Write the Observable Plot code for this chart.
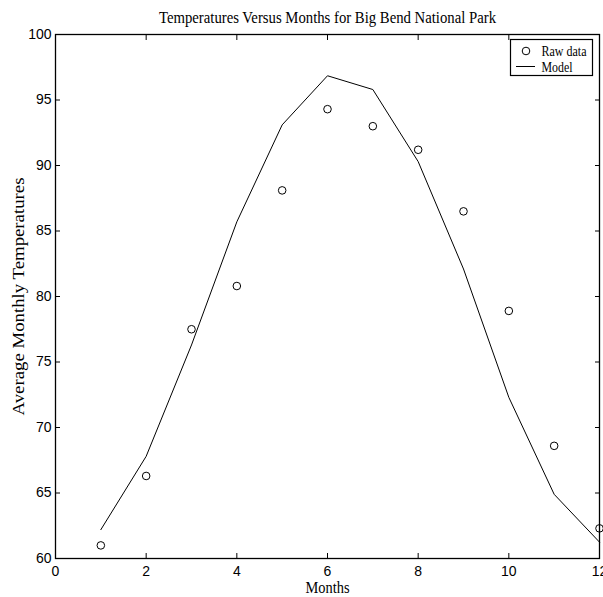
<!DOCTYPE html>
<html>
<head>
<meta charset="utf-8">
<script src="https://cdn.jsdelivr.net/npm/d3@7"></script>
<script src="https://cdn.jsdelivr.net/npm/@observablehq/plot@0.6"></script>
<style>
  html, body { margin: 0; padding: 0; background: #fff; }
  #wrap { position: relative; width: 603px; height: 597px; overflow: hidden; }
  #legend { position: absolute; left: 0; top: 0; pointer-events: none; }
</style>
</head>
<body>
<div id="wrap"></div>
<script>
const titleText = "Temperatures Versus Months for Big Bend National Park";
const xLabel = "Months";
const yLabel = "Average Monthly Temperatures";
const legendLabels = ["Raw data", "Model"];

const months = [1, 2, 3, 4, 5, 6, 7, 8, 9, 10, 11, 12];
const rawTemps = [61.0, 66.3, 77.5, 80.8, 88.1, 94.3, 93.0, 91.2, 86.5, 78.9, 68.6, 62.3];
const modelTemps = [62.2, 67.8, 76.3, 85.7, 93.1, 96.85, 95.8, 90.3, 82.1, 72.3, 64.9, 61.25];

const xTicks = [0, 2, 4, 6, 8, 10, 12];
const yTicks = [60, 65, 70, 75, 80, 85, 90, 95, 100];

const raw = months.map((m, i) => ({month: m, temp: rawTemps[i]}));
const model = months.map((m, i) => ({month: m, temp: modelTemps[i]}));

const serif = "'Liberation Serif', 'Times New Roman', serif";
const sans = "'Liberation Sans Narrow', 'Arial Narrow', 'Liberation Sans', Arial, sans-serif";

const plot = Plot.plot({
  width: 603,
  height: 597,
  marginLeft: 55,
  marginRight: 4,
  marginTop: 34,
  marginBottom: 39,
  style: {fontFamily: sans, fontSize: "14px", color: "#000", background: "#fff", overflow: "visible"},
  x: {domain: [0, 12]},
  y: {domain: [60, 100]},
  marks: [
    Plot.frame({stroke: "#000", strokeWidth: 1.3}),
    Plot.axisX(xTicks, {anchor: "bottom", tickSize: -5, tickPadding: 13, label: null, fontSize: 14}),
    Plot.axisX(xTicks, {anchor: "top", tickSize: -5, tickFormat: () => "", label: null}),
    Plot.axisY(yTicks, {anchor: "left", tickSize: -5, tickPadding: 9, label: null, fontSize: 14}),
    Plot.axisY(yTicks, {anchor: "right", tickSize: -5, tickFormat: () => "", label: null}),
    Plot.line(model, {x: "month", y: "temp", stroke: "#000", strokeWidth: 1}),
    Plot.dot(raw, {x: "month", y: "temp", r: 3.8, stroke: "#000", fill: "none", strokeWidth: 1}),
    Plot.text([titleText], {text: d => d, frameAnchor: "top", dy: -23, fontFamily: serif, fontSize: 16}),
    Plot.text([xLabel], {text: d => d, frameAnchor: "bottom", dy: 34, fontFamily: serif, fontSize: 16}),
    Plot.text([yLabel], {text: d => d, frameAnchor: "left", dx: -37, rotate: -90, fontFamily: serif, fontSize: 17})
  ]
});

// squeeze serif labels horizontally to match the condensed look of the original
const fitWidths = new Map([[titleText, 337], [xLabel, 44], [yLabel, 238]]);
d3.select(plot).selectAll("text").each(function() {
  const t = this.textContent;
  if (fitWidths.has(t)) {
    const w = fitWidths.get(t);
    d3.select(this)
      .attr("text-anchor", "start")
      .attr("dx", -w / 2)
      .attr("textLength", w)
      .attr("lengthAdjust", "spacingAndGlyphs");
  }
});

const wrap = document.getElementById("wrap");
wrap.appendChild(plot);

// legend box (top-right, inside the axes)
const lg = d3.select(wrap).append("svg").attr("id", "legend").attr("width", 603).attr("height", 597);
const box = {x: 510.5, y: 39.5, w: 82, h: 36};
lg.append("rect").attr("x", box.x).attr("y", box.y).attr("width", box.w).attr("height", box.h)
  .attr("fill", "#fff").attr("stroke", "#000").attr("stroke-width", 1.2);
lg.append("circle").attr("cx", box.x + 15.5).attr("cy", box.y + 11.5).attr("r", 3.8)
  .attr("fill", "none").attr("stroke", "#000");
lg.append("line").attr("x1", box.x + 5.5).attr("x2", box.x + 24.5).attr("y1", box.y + 27).attr("y2", box.y + 27)
  .attr("stroke", "#000");
const lgWidths = [45, 31];
legendLabels.forEach((lab, i) => {
  lg.append("text").attr("x", box.x + 31).attr("y", box.y + 11.5 + i * 16).attr("dy", "0.35em")
    .attr("font-family", serif).attr("font-size", 14)
    .attr("textLength", lgWidths[i]).attr("lengthAdjust", "spacingAndGlyphs")
    .text(lab);
});
</script>
</body>
</html>
